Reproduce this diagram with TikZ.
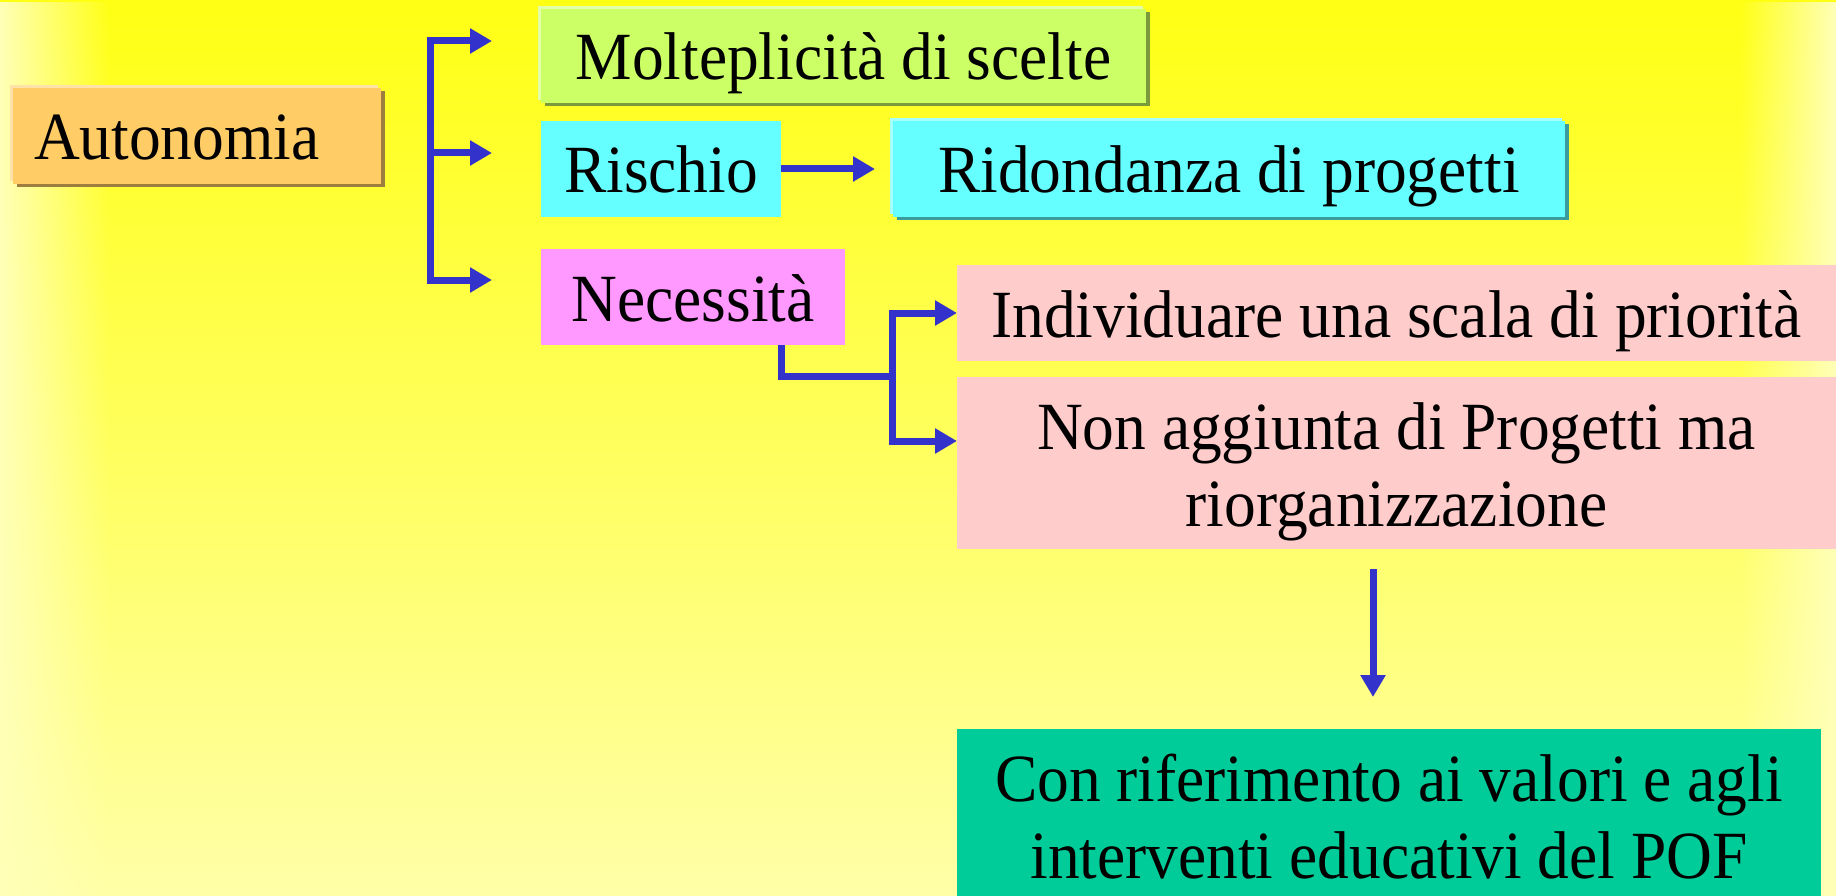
\documentclass[tikz,border=0pt]{standalone}
\usepackage{fontspec}
\setmainfont{Liberation Serif}[FakeStretch=0.94]
\usetikzlibrary{arrows.meta,shadows,fadings}
\definecolor{bgtop}{HTML}{FFFF14}
\definecolor{bgbot}{HTML}{FFFFA8}
\definecolor{bgedge}{HTML}{FFFFB8}
\definecolor{arrowblue}{HTML}{3333CC}
\definecolor{autof}{HTML}{FFCC66}
\definecolor{autohi}{HTML}{FFE2A8}
\definecolor{autosh}{HTML}{9E7E3E}
\definecolor{moltf}{HTML}{CCFF66}
\definecolor{molthi}{HTML}{E2FFAA}
\definecolor{moltsh}{HTML}{7A9A3C}
\definecolor{cyanf}{HTML}{66FFFF}
\definecolor{cyanhi}{HTML}{A6FFFF}
\definecolor{cyansh}{HTML}{3A9C9C}
\definecolor{magf}{HTML}{FF99FF}
\definecolor{pinkf}{HTML}{FFCCCC}
\definecolor{tealf}{HTML}{00CC99}
\tikzfading[name=fadeout right, left color=transparent!0, right color=transparent!100]
\tikzfading[name=fadeout left, left color=transparent!100, right color=transparent!0]
\begin{document}
\begin{tikzpicture}[x=1pt,y=-1pt,
  box/.style={inner sep=0pt, outer sep=0pt, anchor=north west, text=black,
    font=\fontsize{67.5}{77}\selectfont},
  oneline/.style={text height=48pt, text depth=0pt},
  raised/.style n args={3}{fill=#1,
    general shadow={fill=#3, shadow xshift=3.5pt, shadow yshift=-3.5pt},
    general shadow={fill=#2, shadow xshift=-3pt, shadow yshift=3pt}},
  conn/.style={draw=arrowblue, line width=7pt},
  arr/.style={conn, -{Triangle[length=22pt,width=24pt]}}]
\useasboundingbox (0,0) rectangle (1836,896);
\begin{scope}
\clip (0,0) rectangle (1836,896);
% background
\shade[top color=bgtop, bottom color=bgbot] (0,0) rectangle (1836,896);
\fill[bgedge, path fading=fadeout right] (0,0) rectangle (110,896);
\fill[bgedge, path fading=fadeout left] (1740,0) rectangle (1836,896);

% boxes
\node[box, oneline, raised={autof}{autohi}{autosh}, minimum width=368pt, minimum height=96pt,
  text width=326pt, align=left] (auto) at (13,88) {Autonomia};
\node[box, oneline, raised={moltf}{molthi}{moltsh}, minimum width=605pt, minimum height=94pt]
  (molt) at (541,9) {Molteplicità di scelte};
\node[box, oneline, fill=cyanf, minimum width=240pt, minimum height=96pt] (ris) at (541,121) {Rischio};
\node[box, oneline, raised={cyanf}{cyanhi}{cyansh}, minimum width=672pt, minimum height=96pt]
  (rid) at (893,121) {Ridondanza di progetti};
\node[box, oneline, fill=magf, minimum width=304pt, minimum height=96pt] (nec) at (541,249) {Necessità};
\node[box, oneline, fill=pinkf, minimum width=879pt, minimum height=96pt] (ind) at (957,265)
  {Individuare una scala di priorità};
\node[box, fill=pinkf, minimum width=879pt, minimum height=172pt, align=center] (non) at (957,377)
  {\rule{0pt}{64pt}Non aggiunta di Progetti ma\\riorganizzazione};
\node[box, fill=tealf, minimum width=864pt, minimum height=176pt, align=center] (con) at (957,729)
  {Con riferimento ai valori e agli\\interventi educativi del POF};

% bracket from Autonomia
\coordinate (bt) at (430,41);
\coordinate (bm) at (430,153);
\coordinate (bb) at (430,280);
\coordinate (et) at (492,41);
\coordinate (em) at (492,153);
\coordinate (eb) at (492,280);
\draw[conn, line cap=rect] (bt) -- (bb);
\draw[arr] (bt) -- (et);
\draw[arr] (bm) -- (em);
\draw[arr] (bb) -- (eb);

% Rischio -> Ridondanza
\draw[arr, shorten >=18pt] (ris.east) -- (rid.west);

% Necessita fork
\coordinate (nsx) at (781,0);
\coordinate (j) at (892,376);
\coordinate (jt) at (892,313);
\coordinate (jb) at (892,441);
\draw[conn, line join=miter] (nec.south -| nsx) |- (j);
\draw[conn, line cap=rect] (jt) -- (jb);
\draw[arr] (jt) -- (jt -| ind.west);
\draw[arr] (jb) -- (jb -| non.west);

% down arrow
\coordinate (dx) at (1373,0);
\draw[arr, shorten <=20pt, shorten >=32pt] (non.south -| dx) -- (con.north -| dx);
\end{scope}
\end{tikzpicture}
\end{document}
